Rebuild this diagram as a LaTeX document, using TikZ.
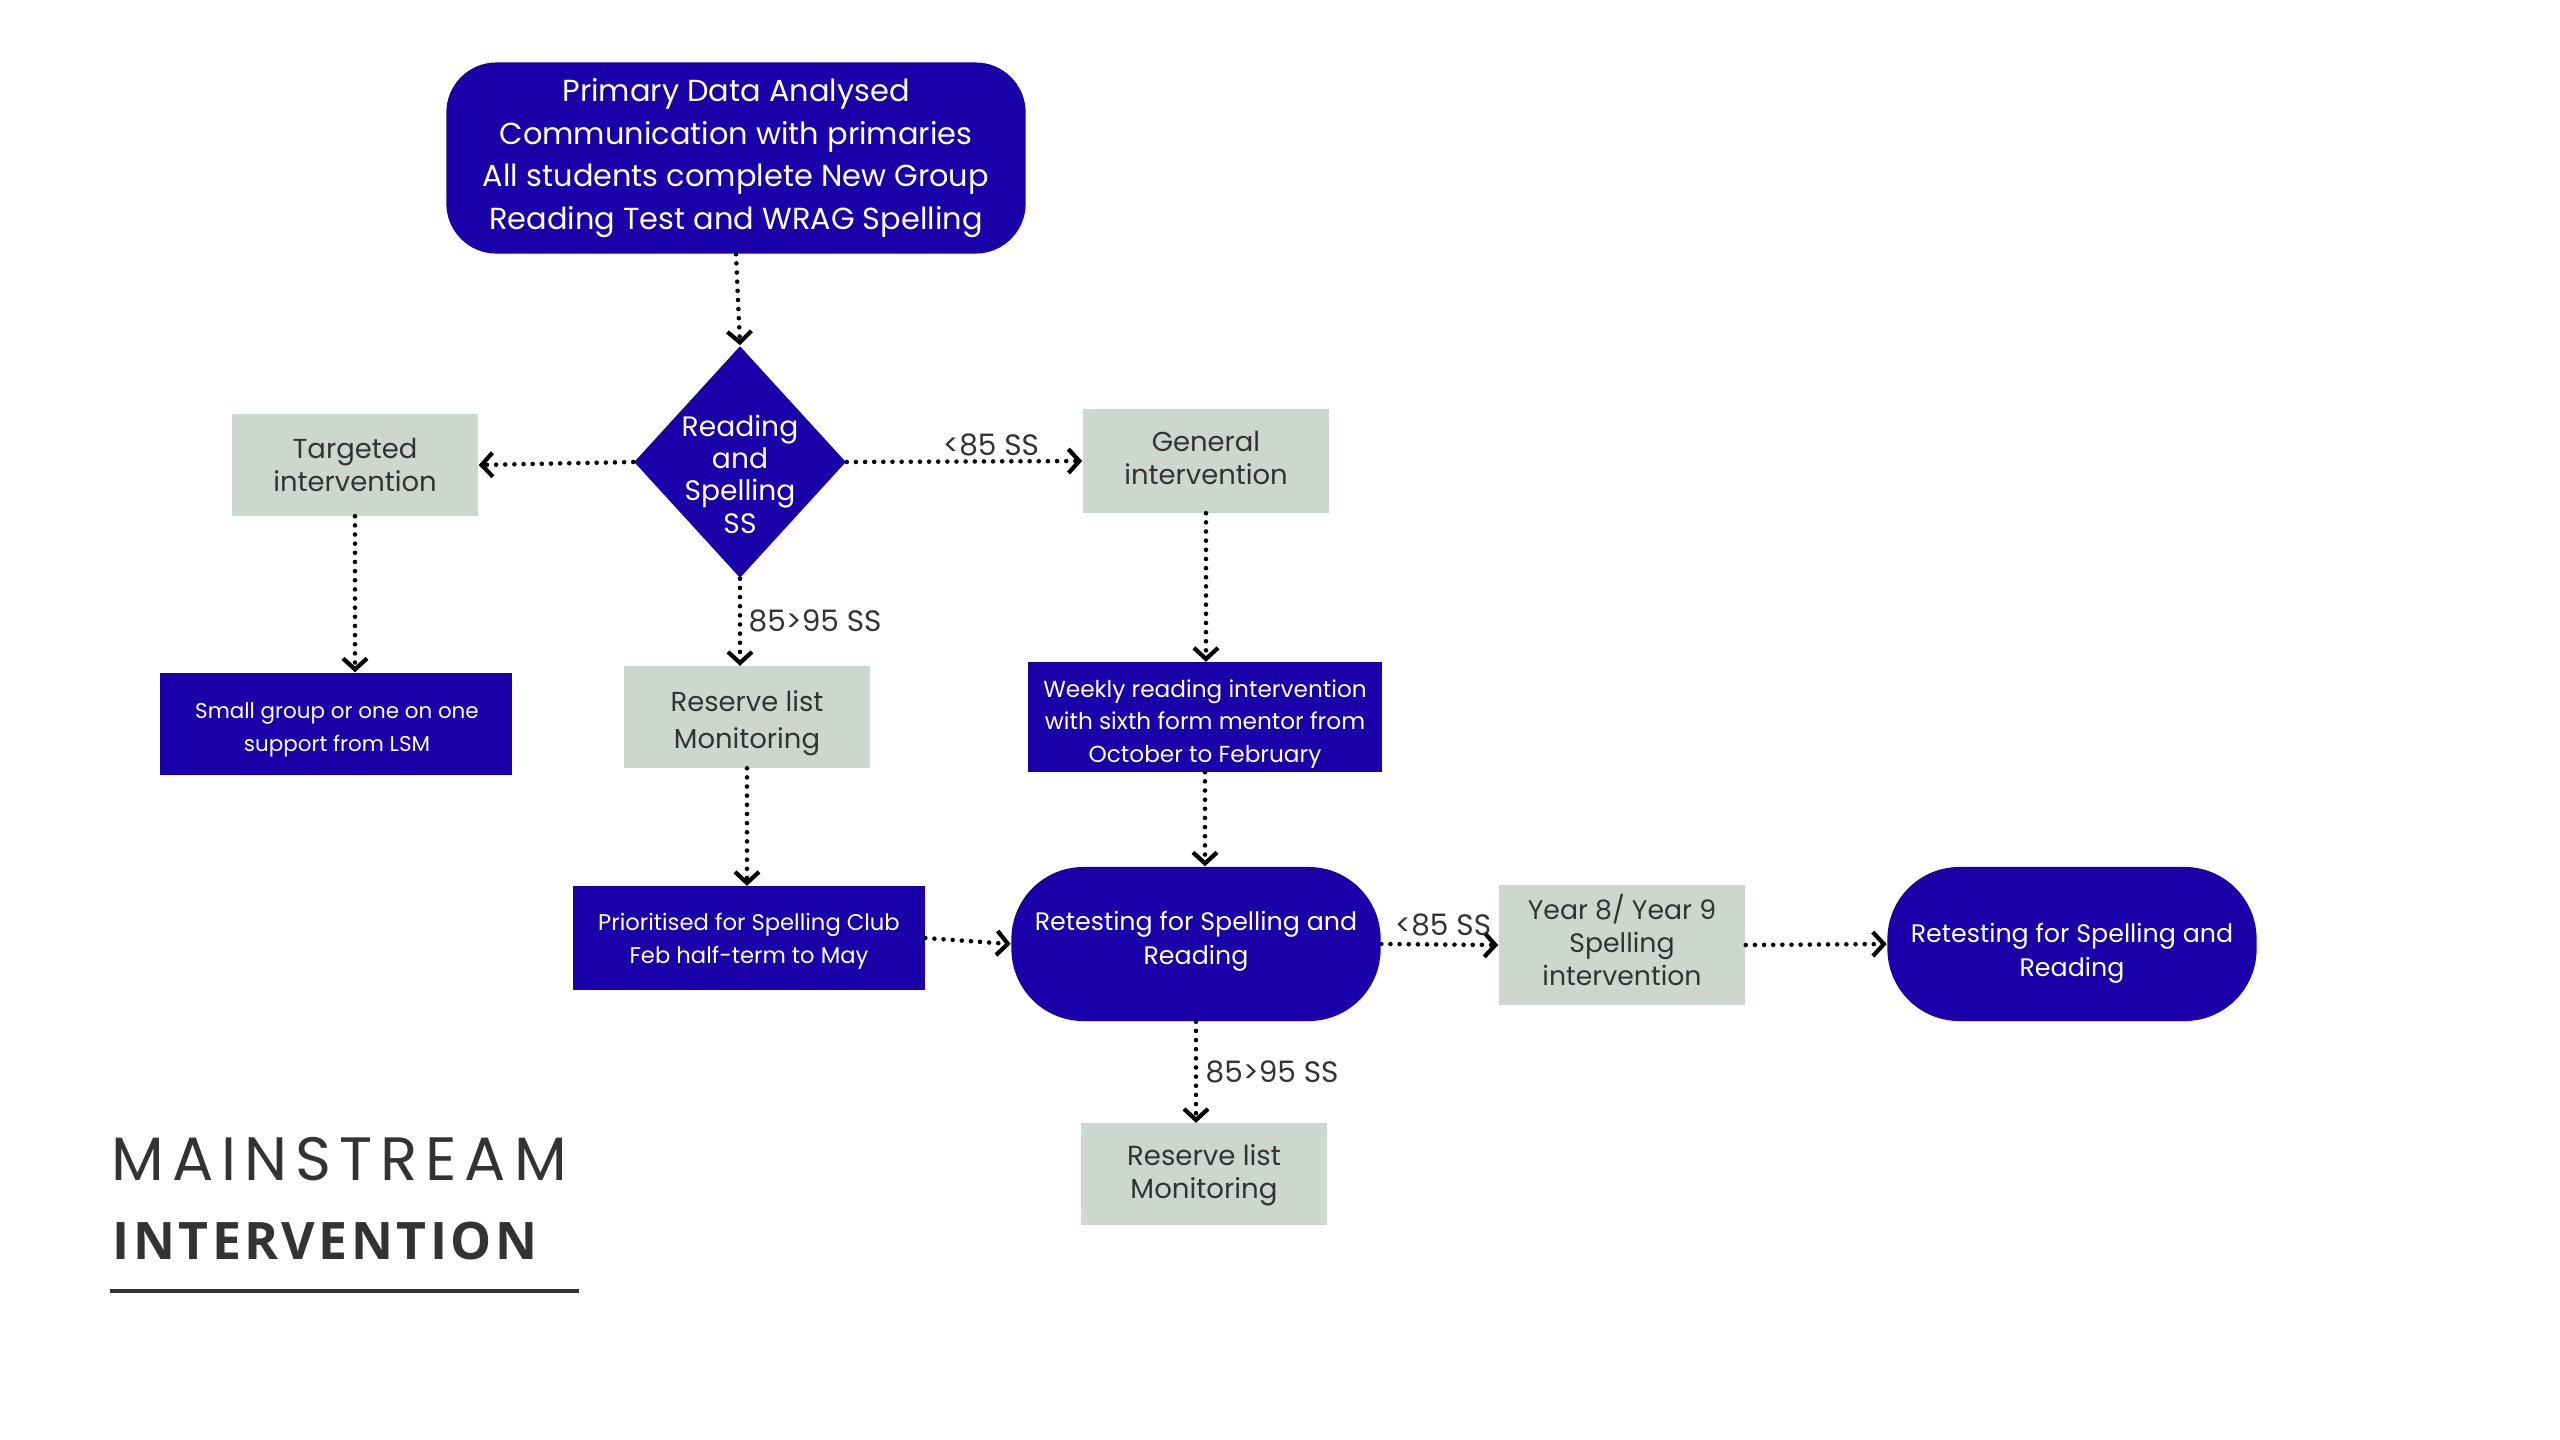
\documentclass[tikz,border=0pt]{standalone}
\usepackage{fontspec}
\setmainfont{Poppins}
\newfontfamily\titlefont[LetterSpace=13]{Poppins}
\newfontfamily\boldtitle[LetterSpace=6.6]{Open Sans}
\usetikzlibrary{shapes.geometric,arrows.meta}
\definecolor{navy}{HTML}{1A00A8}
\definecolor{sage}{HTML}{CED7CF}
\definecolor{ink}{HTML}{333333}
\tikzset{
  bluebox/.style={rectangle, fill=navy, text=white, align=center, inner sep=0pt},
  greybox/.style={rectangle, fill=sage, text=ink, align=center, inner sep=0pt,
    minimum width=2.46cm, minimum height=1.01cm, font=\fontsize{7.8}{9.4}\selectfont},
  pill/.style={rectangle, rounded corners=0.72cm, fill=navy, text=white, align=center,
    minimum width=3.69cm, minimum height=1.54cm, inner sep=0pt, font=\fontsize{7.2}{9.6}\selectfont},
  txt/.style={align=center, inner sep=0pt},
  flow/.style={draw=black, line width=1.3pt, dash pattern=on 0pt off 2.6pt, line cap=round,
    -{Straight Barb[length=0.11cm, width=0.24cm, line width=1.2pt]}},
  lbl/.style={text=ink, font=\fontsize{8.4}{9.4}\selectfont, inner sep=0pt}
}
\begin{document}
\begin{tikzpicture}[x=0.01cm, y=-0.01cm]
\useasboundingbox[fill=white] (0,0) rectangle (2560,1439);

\node[bluebox, rounded corners=0.5cm, minimum width=5.79cm, minimum height=1.91cm,
  font=\fontsize{8.65}{12.1}\selectfont] (top) at (736,158)
  {Primary Data Analysed\\Communication with primaries\\All students complete New Group\\Reading Test and WRAG Spelling};

\node[diamond, fill=navy, minimum width=2.12cm, minimum height=2.32cm, inner sep=0pt] (dia) at (740,462) {};
\node[txt, text=white, font=\fontsize{8}{9.2}\selectfont] (diatext) at (740,474)
  {Reading\\and\\Spelling\\SS};

\node[greybox] (targ) at (355,465) {Targeted\\intervention};
\node[greybox, minimum height=1.03cm] (gen) at (1206,461) {};
\node[txt, text=ink, font=\fontsize{7.8}{9.4}\selectfont] (gentext) at (1206,458) {General\\intervention};

\node[bluebox, minimum width=3.51cm, minimum height=1.02cm] (small) at (336,724) {};
\node[txt, text=white, font=\fontsize{6.1}{9.3}\selectfont] (smalltext) at (337,730)
  {Small group or one on one\\support from LSM};
\node[greybox] (res1) at (747,717) {};
\node[txt, text=ink, font=\fontsize{7.8}{10.6}\selectfont] (res1text) at (747,723) {Reserve list\\Monitoring};
\node[bluebox, minimum width=3.53cm, minimum height=1.09cm] (weekly) at (1205,717) {};
\node[txt, text=white, font=\fontsize{6.6}{9.2}\selectfont] (weeklytext) at (1205,724)
  {Weekly reading intervention\\with sixth form mentor from\\October to February};

\node[bluebox, minimum width=3.51cm, minimum height=1.03cm] (prio) at (749,938) {};
\node[txt, text=white, font=\fontsize{6.45}{9.4}\selectfont] (priotext) at (749,941)
  {Prioritised for Spelling Club\\Feb half-term to May};
\node[pill] (ret1) at (1196,944) {};
\node[txt, text=white, font=\fontsize{7.2}{9.6}\selectfont] (ret1text) at (1196,941) {Retesting for Spelling and\\Reading};
\node[greybox, minimum height=1.20cm] (yr) at (1622,945) {};
\node[txt, text=ink, font=\fontsize{7.6}{9.4}\selectfont] (yrtext) at (1622,940) {Year 8/ Year 9\\Spelling\\intervention};
\node[pill] (ret2) at (2072,944) {};
\node[txt, text=white, font=\fontsize{7.2}{9.6}\selectfont] (ret2text) at (2072,953) {Retesting for Spelling and\\Reading};
\node[greybox] (res2) at (1204,1174) {};
\node[txt, text=ink, font=\fontsize{7.85}{9.4}\selectfont] (res2text) at (1204,1175) {Reserve list\\Monitoring};

% connectors
\draw[flow] (top.south) -- (dia.north);
\draw[flow] (dia.west) -- (targ.east);
\draw[flow] (dia.east) -- (gen.west);
\draw[flow] (targ.south) -- (small.north -| targ.south);
\draw[flow] (dia.south) -- (res1.north -| dia.south);
\draw[flow] (gen.south) -- (weekly.north -| gen.south);
\draw[flow] (res1.south) -- (prio.north -| res1.south);
\draw[flow] (weekly.south) -- (ret1.north -| weekly.south);
\draw[flow] (prio.east) -- (ret1.west);
\draw[flow] (ret1.east) -- (yr.west);
\draw[flow] (yr.east) -- (ret2.west);
\draw[flow] (ret1.south) -- (res2.north -| ret1.south);

% connector labels
\node[lbl] (l1) at (991,445) {<85 SS};
\node[lbl, anchor=west] (l2) at (748,621) {85>95 SS};
\node[lbl] (l3) at (1443,925) {<85 SS};
\node[lbl, anchor=west] (l4) at (1205,1072) {85>95 SS};

% title
\node[anchor=base west, inner sep=0pt, text=ink, font=\titlefont\fontsize{17.4}{20}\selectfont] (t1) at (111,1180) {MAINSTREAM};
\node[anchor=base west, inner sep=0pt, text=ink, font=\boldtitle\bfseries\fontsize{14.7}{18}\selectfont] (t2) at (112,1259) {INTERVENTION};
\draw[ink, line width=0.9pt] (110,1291) -- (579,1291);
\end{tikzpicture}
\end{document}
